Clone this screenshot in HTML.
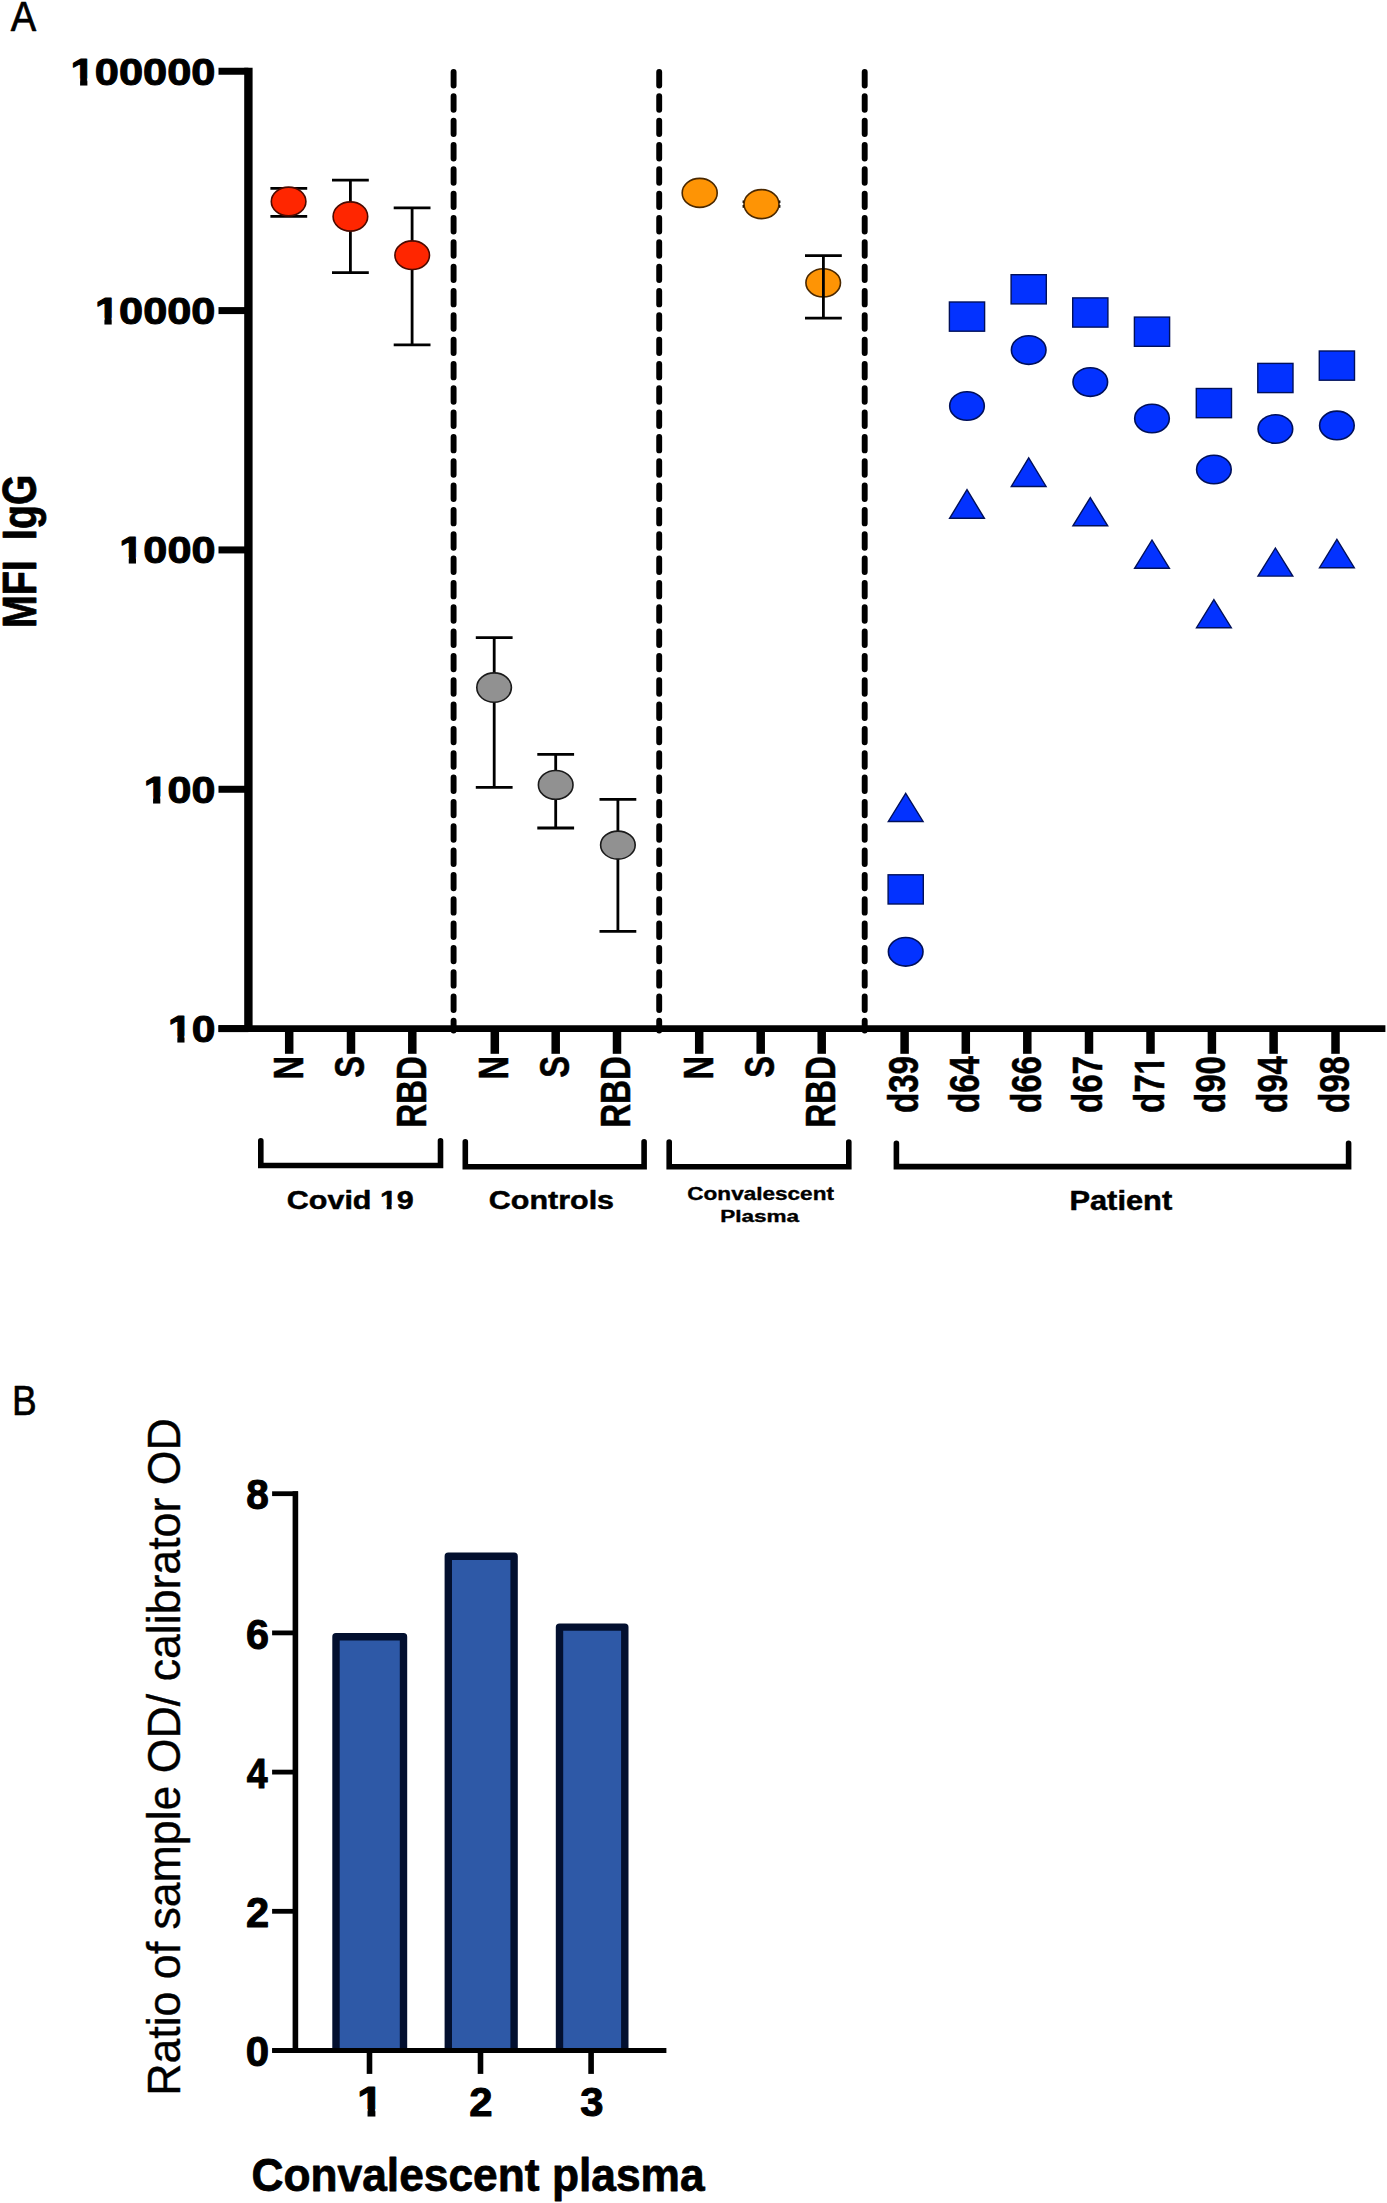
<!DOCTYPE html>
<html><head><meta charset="utf-8"><style>
html,body{margin:0;padding:0;background:#fff;}
svg{display:block;}
text{font-family:"Liberation Sans",sans-serif;font-kerning:none;}
</style></head><body>
<svg width="1387" height="2203" viewBox="0 0 1387 2203">
<g transform="translate(10.84,30.55) scale(0.8950,1)"><text font-size="42.59" font-weight="normal" fill="#000" stroke="#000" stroke-width="0.70" stroke-linejoin="round">A</text></g>
<line x1="248.4" y1="67.8" x2="248.4" y2="1032" stroke="#000" stroke-width="8.4"/>
<line x1="218.5" y1="71.25" x2="248.4" y2="71.25" stroke="#000" stroke-width="7"/>
<line x1="218.5" y1="310.59" x2="248.4" y2="310.59" stroke="#000" stroke-width="7"/>
<line x1="218.5" y1="549.93" x2="248.4" y2="549.93" stroke="#000" stroke-width="7"/>
<line x1="218.5" y1="789.27" x2="248.4" y2="789.27" stroke="#000" stroke-width="7"/>
<line x1="218.5" y1="1028.61" x2="248.4" y2="1028.61" stroke="#000" stroke-width="7"/>
<line x1="218.5" y1="1028.6" x2="1385.4" y2="1028.6" stroke="#000" stroke-width="6.8"/>
<g transform="translate(70.62,84.52) scale(1.1694,1)"><text font-size="37.13" font-weight="bold" fill="#000" stroke="#000" stroke-width="1.00" stroke-linejoin="round">100000</text><rect x="0.03" y="-6.10" width="8.07" height="8.64" fill="#fff"/><rect x="14.33" y="-6.10" width="7.60" height="8.64" fill="#fff"/></g>
<g transform="translate(94.97,323.86) scale(1.1674,1)"><text font-size="37.13" font-weight="bold" fill="#000" stroke="#000" stroke-width="1.00" stroke-linejoin="round">10000</text><rect x="0.03" y="-6.10" width="8.07" height="8.64" fill="#fff"/><rect x="14.33" y="-6.10" width="7.60" height="8.64" fill="#fff"/></g>
<g transform="translate(119.32,563.20) scale(1.1644,1)"><text font-size="37.13" font-weight="bold" fill="#000" stroke="#000" stroke-width="1.00" stroke-linejoin="round">1000</text><rect x="0.03" y="-6.10" width="8.07" height="8.64" fill="#fff"/><rect x="14.33" y="-6.10" width="7.60" height="8.64" fill="#fff"/></g>
<g transform="translate(143.68,802.54) scale(1.1592,1)"><text font-size="37.13" font-weight="bold" fill="#000" stroke="#000" stroke-width="1.00" stroke-linejoin="round">100</text><rect x="0.03" y="-6.10" width="8.07" height="8.64" fill="#fff"/><rect x="14.33" y="-6.10" width="7.60" height="8.64" fill="#fff"/></g>
<g transform="translate(168.05,1041.88) scale(1.1484,1)"><text font-size="37.13" font-weight="bold" fill="#000" stroke="#000" stroke-width="1.00" stroke-linejoin="round">10</text><rect x="0.03" y="-6.10" width="8.07" height="8.64" fill="#fff"/><rect x="14.33" y="-6.10" width="7.60" height="8.64" fill="#fff"/></g>
<line x1="289.2" y1="1028.6" x2="289.2" y2="1053.8" stroke="#000" stroke-width="8.5"/>
<line x1="351" y1="1028.6" x2="351" y2="1053.8" stroke="#000" stroke-width="8.5"/>
<line x1="412.3" y1="1028.6" x2="412.3" y2="1053.8" stroke="#000" stroke-width="8.5"/>
<line x1="494.8" y1="1028.6" x2="494.8" y2="1053.8" stroke="#000" stroke-width="8.5"/>
<line x1="555.7" y1="1028.6" x2="555.7" y2="1053.8" stroke="#000" stroke-width="8.5"/>
<line x1="617" y1="1028.6" x2="617" y2="1053.8" stroke="#000" stroke-width="8.5"/>
<line x1="699.2" y1="1028.6" x2="699.2" y2="1053.8" stroke="#000" stroke-width="8.5"/>
<line x1="760.7" y1="1028.6" x2="760.7" y2="1053.8" stroke="#000" stroke-width="8.5"/>
<line x1="821.7" y1="1028.6" x2="821.7" y2="1053.8" stroke="#000" stroke-width="8.5"/>
<line x1="904.6" y1="1028.6" x2="904.6" y2="1053.8" stroke="#000" stroke-width="8.5"/>
<line x1="965.8" y1="1028.6" x2="965.8" y2="1053.8" stroke="#000" stroke-width="8.5"/>
<line x1="1027.3" y1="1028.6" x2="1027.3" y2="1053.8" stroke="#000" stroke-width="8.5"/>
<line x1="1089" y1="1028.6" x2="1089" y2="1053.8" stroke="#000" stroke-width="8.5"/>
<line x1="1150.5" y1="1028.6" x2="1150.5" y2="1053.8" stroke="#000" stroke-width="8.5"/>
<line x1="1211.9" y1="1028.6" x2="1211.9" y2="1053.8" stroke="#000" stroke-width="8.5"/>
<line x1="1273.6" y1="1028.6" x2="1273.6" y2="1053.8" stroke="#000" stroke-width="8.5"/>
<line x1="1335.5" y1="1028.6" x2="1335.5" y2="1053.8" stroke="#000" stroke-width="8.5"/>
<line x1="453.6" y1="71.95" x2="453.6" y2="1030.5" stroke="#000" stroke-width="5.9" stroke-linecap="round" stroke-dasharray="13.5 10.83"/>
<line x1="659.2" y1="71.95" x2="659.2" y2="1030.5" stroke="#000" stroke-width="5.9" stroke-linecap="round" stroke-dasharray="13.5 10.83"/>
<line x1="864.7" y1="71.95" x2="864.7" y2="1030.5" stroke="#000" stroke-width="5.9" stroke-linecap="round" stroke-dasharray="13.5 10.83"/>
<g transform="translate(302.65,1079.62) rotate(-90) scale(0.7817,1)"><text font-size="41.86" font-weight="bold" fill="#000" stroke="#000" stroke-width="0.50" stroke-linejoin="round">N</text></g>
<g transform="translate(364.45,1077.81) rotate(-90) scale(0.7818,1)"><text font-size="41.87" font-weight="bold" fill="#000" stroke="#000" stroke-width="0.50" stroke-linejoin="round">S</text></g>
<g transform="translate(425.75,1127.87) rotate(-90) scale(0.7930,1)"><text font-size="41.86" font-weight="bold" fill="#000" stroke="#000" stroke-width="0.50" stroke-linejoin="round">RBD</text></g>
<g transform="translate(508.25,1079.62) rotate(-90) scale(0.7817,1)"><text font-size="41.86" font-weight="bold" fill="#000" stroke="#000" stroke-width="0.50" stroke-linejoin="round">N</text></g>
<g transform="translate(569.15,1077.81) rotate(-90) scale(0.7818,1)"><text font-size="41.87" font-weight="bold" fill="#000" stroke="#000" stroke-width="0.50" stroke-linejoin="round">S</text></g>
<g transform="translate(630.45,1127.87) rotate(-90) scale(0.7930,1)"><text font-size="41.86" font-weight="bold" fill="#000" stroke="#000" stroke-width="0.50" stroke-linejoin="round">RBD</text></g>
<g transform="translate(712.65,1079.62) rotate(-90) scale(0.7817,1)"><text font-size="41.86" font-weight="bold" fill="#000" stroke="#000" stroke-width="0.50" stroke-linejoin="round">N</text></g>
<g transform="translate(774.15,1077.81) rotate(-90) scale(0.7818,1)"><text font-size="41.87" font-weight="bold" fill="#000" stroke="#000" stroke-width="0.50" stroke-linejoin="round">S</text></g>
<g transform="translate(835.15,1127.87) rotate(-90) scale(0.7930,1)"><text font-size="41.86" font-weight="bold" fill="#000" stroke="#000" stroke-width="0.50" stroke-linejoin="round">RBD</text></g>
<g transform="translate(918.05,1113.07) rotate(-90) scale(0.7912,1)"><text font-size="41.90" font-weight="bold" fill="#000" stroke="#000" stroke-width="0.50" stroke-linejoin="round">d39</text></g>
<g transform="translate(979.25,1113.08) rotate(-90) scale(0.7913,1)"><text font-size="41.90" font-weight="bold" fill="#000" stroke="#000" stroke-width="0.50" stroke-linejoin="round">d64</text></g>
<g transform="translate(1040.75,1113.07) rotate(-90) scale(0.7912,1)"><text font-size="41.90" font-weight="bold" fill="#000" stroke="#000" stroke-width="0.50" stroke-linejoin="round">d66</text></g>
<g transform="translate(1102.45,1113.07) rotate(-90) scale(0.7911,1)"><text font-size="41.90" font-weight="bold" fill="#000" stroke="#000" stroke-width="0.50" stroke-linejoin="round">d67</text></g>
<g transform="translate(1163.95,1113.07) rotate(-90) scale(0.7906,1)"><text font-size="41.90" font-weight="bold" fill="#000" stroke="#000" stroke-width="0.50" stroke-linejoin="round">d71</text><rect x="49.24" y="-6.57" width="9.10" height="9.44" fill="#fff"/><rect x="64.75" y="-6.57" width="8.57" height="9.44" fill="#fff"/></g>
<g transform="translate(1225.35,1113.07) rotate(-90) scale(0.7911,1)"><text font-size="41.90" font-weight="bold" fill="#000" stroke="#000" stroke-width="0.50" stroke-linejoin="round">d90</text></g>
<g transform="translate(1287.05,1113.08) rotate(-90) scale(0.7913,1)"><text font-size="41.90" font-weight="bold" fill="#000" stroke="#000" stroke-width="0.50" stroke-linejoin="round">d94</text></g>
<g transform="translate(1348.95,1113.07) rotate(-90) scale(0.7912,1)"><text font-size="41.90" font-weight="bold" fill="#000" stroke="#000" stroke-width="0.50" stroke-linejoin="round">d98</text></g>
<path d="M260.8,1140.8 V1165.5 H440.5 V1140.8" fill="none" stroke="#000" stroke-width="5.6" stroke-linecap="round" stroke-linejoin="miter"/>
<path d="M465.3,1141.7 V1166.7 H644.1 V1141.7" fill="none" stroke="#000" stroke-width="5.6" stroke-linecap="round" stroke-linejoin="miter"/>
<path d="M669.2,1142.0 V1166.7 H848.8 V1142.0" fill="none" stroke="#000" stroke-width="5.6" stroke-linecap="round" stroke-linejoin="miter"/>
<path d="M896.4,1143.3999999999999 V1166.6 H1348.6 V1143.3999999999999" fill="none" stroke="#000" stroke-width="5.6" stroke-linecap="round" stroke-linejoin="miter"/>
<g transform="translate(286.84,1209.05) scale(1.1500,1)"><text font-size="26.50" font-weight="bold" fill="#000" stroke="#000" stroke-width="0.50" stroke-linejoin="round">Covid 19</text><rect x="81.09" y="-4.25" width="5.76" height="6.06" fill="#fff"/><rect x="91.09" y="-4.25" width="5.42" height="6.06" fill="#fff"/></g>
<g transform="translate(488.84,1208.75) scale(1.1437,1)"><text font-size="26.64" font-weight="bold" fill="#000" stroke="#000" stroke-width="0.50" stroke-linejoin="round">Controls</text></g>
<g transform="translate(687.30,1200.42) scale(1.2727,1)"><text font-size="17.73" font-weight="bold" fill="#000" stroke="#000" stroke-width="0.35" stroke-linejoin="round">Convalescent</text></g>
<g transform="translate(720.13,1222.12) scale(1.3772,1)"><text font-size="16.35" font-weight="bold" fill="#000" stroke="#000" stroke-width="0.35" stroke-linejoin="round">Plasma</text></g>
<g transform="translate(1069.43,1210.35) scale(1.1513,1)"><text font-size="26.77" font-weight="bold" fill="#000" stroke="#000" stroke-width="0.50" stroke-linejoin="round">Patient</text></g>
<g transform="translate(35.60,628.12) rotate(-90) scale(0.8079,1)"><text font-size="48.84" font-weight="bold" fill="#000" stroke="#000" stroke-width="0.80" stroke-linejoin="round">MFI</text></g>
<g transform="translate(35.60,539.90) rotate(-90) scale(0.8143,1)"><text font-size="48.12" font-weight="bold" fill="#000" stroke="#000" stroke-width="0.80" stroke-linejoin="round">IgG</text></g>
<path d="M270.40000000000003,188.3 H307.2 M288.8,188.3 V216.4 M270.40000000000003,216.4 H307.2" stroke="#000" stroke-width="2.8" fill="none"/>
<ellipse cx="288.6" cy="201.5" rx="17.30" ry="14.40" fill="#ff2600" stroke="#4a0a00" stroke-width="1.6"/>
<path d="M332.0,180.1 H368.79999999999995 M350.4,180.1 V272.7 M332.0,272.7 H368.79999999999995" stroke="#000" stroke-width="2.8" fill="none"/>
<ellipse cx="350.4" cy="216.5" rx="17.30" ry="14.60" fill="#ff2600" stroke="#4a0a00" stroke-width="1.6"/>
<path d="M393.70000000000005,207.9 H430.5 M412.1,207.9 V344.8 M393.70000000000005,344.8 H430.5" stroke="#000" stroke-width="2.8" fill="none"/>
<ellipse cx="412.2" cy="255.2" rx="17.30" ry="14.30" fill="#ff2600" stroke="#4a0a00" stroke-width="1.6"/>
<path d="M475.8,637.7 H512.6 M494.2,637.7 V787.3 M475.8,787.3 H512.6" stroke="#000" stroke-width="2.8" fill="none"/>
<ellipse cx="494.1" cy="687.6" rx="17.30" ry="14.70" fill="#919191" stroke="#1a1a1a" stroke-width="1.6"/>
<path d="M537.3000000000001,754.3 H574.1 M555.7,754.3 V828.0 M537.3000000000001,828.0 H574.1" stroke="#000" stroke-width="2.8" fill="none"/>
<ellipse cx="555.7" cy="784.9" rx="17.30" ry="14.40" fill="#919191" stroke="#1a1a1a" stroke-width="1.6"/>
<path d="M599.5,799.4 H636.3 M617.9,799.4 V931.3 M599.5,931.3 H636.3" stroke="#000" stroke-width="2.8" fill="none"/>
<ellipse cx="617.9" cy="845.1" rx="17.30" ry="14.00" fill="#919191" stroke="#1a1a1a" stroke-width="1.6"/>
<ellipse cx="699.7" cy="192.9" rx="17.50" ry="14.50" fill="#fe9405" stroke="#4a2800" stroke-width="1.6"/>
<path d="M742.6,201.8 H780.4 M761.5,201.8 V206.4 M742.6,206.4 H780.4" stroke="#000" stroke-width="2.6" fill="none"/>
<ellipse cx="761.5" cy="204.1" rx="17.50" ry="14.50" fill="#fe9405" stroke="#4a2800" stroke-width="1.6"/>
<ellipse cx="823.2" cy="282.8" rx="17.30" ry="14.10" fill="#fe9405" stroke="#4a2800" stroke-width="1.6"/>
<path d="M805.0,255.6 H841.8 M823.4,255.6 V318.2 M805.0,318.2 H841.8" stroke="#000" stroke-width="2.8" fill="none"/>
<rect x="888.1" y="874.8" width="35.2" height="29.2" fill="#0332ff" stroke="#00105a" stroke-width="1.4"/>
<ellipse cx="905.7" cy="951.8" rx="17.30" ry="14.30" fill="#0332ff" stroke="#00105a" stroke-width="1.6"/>
<path d="M905.7,793.3 L923.1,821.5 L888.3,821.5 Z" fill="#0332ff" stroke="#00105a" stroke-width="1.4" stroke-linejoin="miter"/>
<rect x="949.4" y="302.0" width="35.2" height="29.2" fill="#0332ff" stroke="#00105a" stroke-width="1.4"/>
<ellipse cx="967.0" cy="406.0" rx="17.30" ry="14.30" fill="#0332ff" stroke="#00105a" stroke-width="1.6"/>
<path d="M967.0,489.7 L984.4,518.3 L949.6,518.3 Z" fill="#0332ff" stroke="#00105a" stroke-width="1.4" stroke-linejoin="miter"/>
<rect x="1011.1" y="274.7" width="35.2" height="29.2" fill="#0332ff" stroke="#00105a" stroke-width="1.4"/>
<ellipse cx="1028.7" cy="350.1" rx="17.30" ry="14.30" fill="#0332ff" stroke="#00105a" stroke-width="1.6"/>
<path d="M1028.7,457.8 L1046.1,486.5 L1011.3,486.5 Z" fill="#0332ff" stroke="#00105a" stroke-width="1.4" stroke-linejoin="miter"/>
<rect x="1072.7" y="297.9" width="35.2" height="29.2" fill="#0332ff" stroke="#00105a" stroke-width="1.4"/>
<ellipse cx="1090.3" cy="382.1" rx="17.30" ry="14.30" fill="#0332ff" stroke="#00105a" stroke-width="1.6"/>
<path d="M1090.3,497.6 L1107.7,525.8 L1072.9,525.8 Z" fill="#0332ff" stroke="#00105a" stroke-width="1.4" stroke-linejoin="miter"/>
<rect x="1134.4" y="317.1" width="35.2" height="29.2" fill="#0332ff" stroke="#00105a" stroke-width="1.4"/>
<ellipse cx="1152.0" cy="418.5" rx="17.30" ry="14.30" fill="#0332ff" stroke="#00105a" stroke-width="1.6"/>
<path d="M1152.0,540.0 L1169.4,568.3 L1134.6,568.3 Z" fill="#0332ff" stroke="#00105a" stroke-width="1.4" stroke-linejoin="miter"/>
<rect x="1196.3" y="388.5" width="35.2" height="29.2" fill="#0332ff" stroke="#00105a" stroke-width="1.4"/>
<ellipse cx="1213.9" cy="469.5" rx="17.30" ry="14.30" fill="#0332ff" stroke="#00105a" stroke-width="1.6"/>
<path d="M1213.9,599.6 L1231.3,627.7 L1196.5,627.7 Z" fill="#0332ff" stroke="#00105a" stroke-width="1.4" stroke-linejoin="miter"/>
<rect x="1257.8" y="363.4" width="35.2" height="29.2" fill="#0332ff" stroke="#00105a" stroke-width="1.4"/>
<ellipse cx="1275.4" cy="429.0" rx="17.30" ry="14.30" fill="#0332ff" stroke="#00105a" stroke-width="1.6"/>
<path d="M1275.4,548.0 L1292.8,576.1 L1258.0,576.1 Z" fill="#0332ff" stroke="#00105a" stroke-width="1.4" stroke-linejoin="miter"/>
<rect x="1319.3" y="351.0" width="35.2" height="29.2" fill="#0332ff" stroke="#00105a" stroke-width="1.4"/>
<ellipse cx="1336.9" cy="425.4" rx="17.30" ry="14.30" fill="#0332ff" stroke="#00105a" stroke-width="1.6"/>
<path d="M1336.9,539.4 L1354.3,567.7 L1319.5,567.7 Z" fill="#0332ff" stroke="#00105a" stroke-width="1.4" stroke-linejoin="miter"/>
<g transform="translate(11.97,1415.15) scale(0.8602,1)"><text font-size="43.02" font-weight="normal" fill="#000" stroke="#000" stroke-width="0.70" stroke-linejoin="round">B</text></g>
<path d="M336.00,2050.5 V1636.70 H403.50 V2050.5" fill="#2e59a7" stroke="#03102f" stroke-width="7.4" stroke-linejoin="round"/>
<path d="M448.30,2050.5 V1556.20 H514.10 V2050.5" fill="#2e59a7" stroke="#03102f" stroke-width="7.4" stroke-linejoin="round"/>
<path d="M559.50,2050.5 V1627.10 H624.80 V2050.5" fill="#2e59a7" stroke="#03102f" stroke-width="7.4" stroke-linejoin="round"/>
<line x1="295.4" y1="1491.3" x2="295.4" y2="2050.5" stroke="#000" stroke-width="5.6"/>
<line x1="272.1" y1="1493.70" x2="298.0" y2="1493.70" stroke="#000" stroke-width="4.8"/>
<g transform="translate(246.19,1509.38) scale(0.9647,1)"><text font-size="42.07" font-weight="bold" fill="#000" stroke="#000" stroke-width="1.00" stroke-linejoin="round">8</text></g>
<line x1="272.1" y1="1632.90" x2="298.0" y2="1632.90" stroke="#000" stroke-width="4.8"/>
<g transform="translate(245.98,1648.58) scale(0.9842,1)"><text font-size="42.07" font-weight="bold" fill="#000" stroke="#000" stroke-width="1.00" stroke-linejoin="round">6</text></g>
<line x1="272.1" y1="1772.10" x2="298.0" y2="1772.10" stroke="#000" stroke-width="4.8"/>
<g transform="translate(246.86,1788.20) scale(0.8677,1)"><text font-size="43.31" font-weight="bold" fill="#000" stroke="#000" stroke-width="1.00" stroke-linejoin="round">4</text></g>
<line x1="272.1" y1="1911.30" x2="298.0" y2="1911.30" stroke="#000" stroke-width="4.8"/>
<g transform="translate(246.05,1927.40) scale(0.9746,1)"><text font-size="42.68" font-weight="bold" fill="#000" stroke="#000" stroke-width="1.00" stroke-linejoin="round">2</text></g>
<line x1="272.1" y1="2050.50" x2="298.0" y2="2050.50" stroke="#000" stroke-width="4.8"/>
<g transform="translate(245.84,2066.18) scale(0.9996,1)"><text font-size="42.07" font-weight="bold" fill="#000" stroke="#000" stroke-width="1.00" stroke-linejoin="round">0</text></g>
<line x1="272.4" y1="2050.5" x2="666.4" y2="2050.5" stroke="#000" stroke-width="5"/>
<line x1="369.5" y1="2050.5" x2="369.5" y2="2073.9" stroke="#000" stroke-width="5.6"/>
<line x1="480.5" y1="2050.5" x2="480.5" y2="2073.9" stroke="#000" stroke-width="5.6"/>
<line x1="591.1" y1="2050.5" x2="591.1" y2="2073.9" stroke="#000" stroke-width="5.6"/>
<g transform="translate(357.12,2115.70) scale(1.1427,1)"><text font-size="41.57" font-weight="bold" fill="#000" stroke="#000" stroke-width="1.00" stroke-linejoin="round">1</text><rect x="0.09" y="-6.77" width="9.03" height="9.61" fill="#fff"/><rect x="15.99" y="-6.77" width="8.50" height="9.61" fill="#fff"/></g>
<g transform="translate(469.25,2115.70) scale(1.0164,1)"><text font-size="41.25" font-weight="bold" fill="#000" stroke="#000" stroke-width="1.00" stroke-linejoin="round">2</text></g>
<g transform="translate(580.15,2115.70) scale(1.0138,1)"><text font-size="41.25" font-weight="bold" fill="#000" stroke="#000" stroke-width="1.00" stroke-linejoin="round">3</text></g>
<g transform="translate(179.80,2095.87) rotate(-90) scale(0.9521,1)"><text font-size="46.92" font-weight="normal" fill="#000" stroke="#000" stroke-width="0.40" stroke-linejoin="round">Ratio of sample OD/ calibrator OD</text></g>
<g transform="translate(251.46,2191.40) scale(0.9446,1)"><text font-size="46.92" font-weight="bold" fill="#000" stroke="#000" stroke-width="0.80" stroke-linejoin="round">Convalescent plasma</text></g>
</svg></body></html>
